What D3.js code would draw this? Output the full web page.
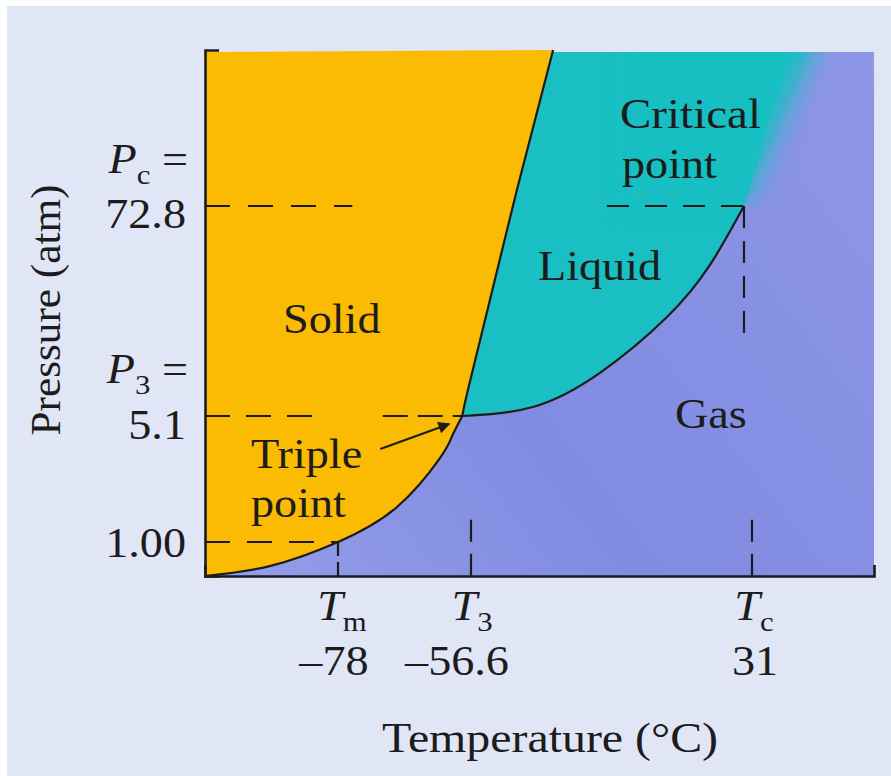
<!DOCTYPE html>
<html><head><meta charset="utf-8">
<script src="https://cdn.jsdelivr.net/npm/d3@7"></script>
<style>html,body{margin:0;padding:0;background:#fff;} svg{display:block}</style>
</head><body><svg id="c" width="891" height="776"></svg>
<script>
// ---------------- data (CO2 phase diagram, schematic axes) ----------------
const tempMin = -100, tempMax = 70;          // axis limits (°C, schematic)
const presMin = 0, presMax = 100;            // axis limits (atm, schematic)
const tempTicks = [-78, -56.6, 31];
const tempTickLabels = ["\u201378", "\u201356.6", "31"];
const tempSymbols = ["m", "3", "c"];
const presTicks = [1.00, 5.1, 72.8];
const presTickLabels = ["1.00", "5.1", "72.8"];
const presSymbols = ["", "3", "c"];

// sublimation curve (solid/gas)
const sublimationT = [-100, -89.3, -78, -68.5, -61.6, -59.7, -58.0];
const sublimationP = [0, 0.29, 1.0, 2.14, 3.73, 4.42, 5.1];
// melting curve (solid/liquid)
const meltingT = [-58.0, -57.1, -50.7, -42.3, -31.0];
const meltingP = [5.1, 13.5, 42.5, 75.6, 100];
// vaporization curve (liquid/gas)
const vaporT = [-58.0, -37.3, -16.4, 4.5, 17.9, 28.5];
const vaporP = [5.1, 8.0, 19.0, 37.0, 53.8, 72.8];
// supercritical fade boundary top end
const fadeTopT = 54, fadeTopP = 100;

const regionLabels = ["Solid", "Liquid", "Gas"];

// ---------------- drawing ----------------
const W = 891, H = 776;
const FONT = "'Liberation Serif','Times New Roman',serif";
const SX = 1.1;
const INK = "#1c1c1c";
const svg = d3.select("#c");

svg.append("rect").attr("width", W).attr("height", H).attr("fill", "#ffffff");
svg.append("rect").attr("x", 7).attr("y", 6).attr("width", W - 7).attr("height", H - 6).attr("fill", "#e1e6f6");

const x = d3.scaleLinear().domain([tempMin, ...tempTicks, tempMax]).range([205, 338, 471, 752, 874]);
const y = d3.scaleLinear().domain([presMin, ...presTicks, presMax]).range([576, 542, 416, 206, 50]);

const defs = svg.append("defs");
const gg = defs.append("linearGradient").attr("id", "gasGrad")
  .attr("gradientUnits", "userSpaceOnUse")
  .attr("x1", x(tempMin)).attr("y1", y(presMin)).attr("x2", x(tempMax)).attr("y2", y(presMax));
gg.append("stop").attr("offset", 0).attr("stop-color", "#959ee8");
gg.append("stop").attr("offset", 0.4).attr("stop-color", "#808ce2");
gg.append("stop").attr("offset", 1).attr("stop-color", "#8e96e6");
defs.append("filter").attr("id", "soft")
  .attr("filterUnits", "userSpaceOnUse").attr("x", 0).attr("y", 0).attr("width", W).attr("height", H)
  .append("feGaussianBlur").attr("stdDeviation", 12);

const pts = (T, P) => T.map((t, i) => [x(t), y(P[i])]);
const sub = pts(sublimationT, sublimationP);
const melt = pts(meltingT, meltingP);
const vap = pts(vaporT, vaporP);
const triple = vap[0], crit = vap[vap.length - 1];
const lineGen = d3.line().curve(d3.curveNatural);
const seg = p => lineGen(p).replace(/^M/, "L");

const X0 = x(tempMin), X1 = x(tempMax), Y0 = y(presMin), Y1 = y(presMax);
const topY = Y1 + 2;

// gas background
svg.append("rect").attr("x", X0).attr("y", topY).attr("width", X1 - X0).attr("height", Y0 - topY)
  .attr("fill", "url(#gasGrad)");

// liquid (sharp part): region above vaporization curve; solid is painted over its left side
const fadeTop = [x(fadeTopT), topY];
svg.append("path")
  .attr("d", "M" + triple + seg(vap) + "L" + [fadeTop[0] - 34, topY] + "L" + [triple[0], topY] + "Z")
  .attr("fill", "#19bfc2");
// liquid soft fade into supercritical region
defs.append("clipPath").attr("id", "aboveVap").append("path")
  .attr("d", "M" + triple + seg(vap) + "L" + [X1, crit[1]] + "L" + [X1, topY] + "L" + [triple[0], topY] + "Z");
svg.append("g").attr("clip-path", "url(#aboveVap)")
  .append("path")
  .attr("d", "M" + crit + "L" + [fadeTop[0] + 6, topY - 40] + "L" + [crit[0] - 120, topY - 40] + "L" + [crit[0] - 120, crit[1]] + "Z")
  .attr("fill", "#19bfc2").attr("filter", "url(#soft)");

// solid: origin -> sublimation -> melting -> top-left
svg.append("path")
  .attr("d", lineGen(sub) + seg(melt) + "L" + [X0, topY] + "Z")
  .attr("fill", "#fbbb02");

// phase boundary curves
[sub, melt, vap].forEach(p => {
  svg.append("path").attr("d", lineGen(p)).attr("fill", "none")
    .attr("stroke", INK).attr("stroke-width", 2.2);
});

// dashed guide lines
const dash = (a, b, da) => svg.append("line")
  .attr("x1", a[0]).attr("y1", a[1]).attr("x2", b[0]).attr("y2", b[1])
  .attr("stroke", INK).attr("stroke-width", 2.2).attr("stroke-dasharray", da);
// Pc
dash([X0, y(72.8)], [x(-75.7), y(72.8)], "25,18");
dash([x(-14.2), y(72.8)], crit, "22,16");
dash(crit, [crit[0], y(30.6)], "22,13");
// P3
dash([X0, y(5.1)], [x(-81.3), y(5.1)], "25,16");
dash([x(-70.8), y(5.1)], triple, "25,10");
// 1 atm
dash([X0, y(1)], [x(-78), y(1)], "25,17");
dash([x(-78), y(1)], [x(-78), Y0], "14,6");
// short tick dashes at T3, Tc
[-56.6, 31].forEach(t => dash([x(t), y(1.72)], [x(t), Y0], "22,12"));

// axes (domain lines only, with inward end ticks)
svg.append("g").attr("transform", `translate(${X0},0)`)
  .call(d3.axisLeft(y).tickValues([]).tickSizeOuter(-14))
  .call(g => g.select(".domain").attr("stroke", INK).attr("stroke-width", 2.6));
svg.append("g").attr("transform", `translate(0,${Y0})`)
  .call(d3.axisBottom(x).tickValues([]).tickSizeOuter(-11))
  .call(g => g.select(".domain").attr("stroke", INK).attr("stroke-width", 2.6));

// ---------------- text ----------------
function label(px, py, anchor, size, rot, sx) {
  const s = sx || (rot ? 1.03 : SX);
  return svg.append("text")
    .attr("transform", `translate(${px},${py})` + (rot ? ` rotate(${rot})` : "") + ` scale(${s},1)`)
    .attr("text-anchor", anchor).attr("font-family", FONT).attr("font-size", size).attr("fill", INK);
}
function symbolLabel(px, py, anchor, main, subTxt, tail) {
  const t = label(px, py, anchor, 42);
  t.append("tspan").attr("font-style", "italic").text(main);
  t.append("tspan").attr("font-size", 28).attr("dy", 11).text(subTxt);
  if (tail) t.append("tspan").attr("dy", -11).text(tail);
  return t;
}

// region labels
label(283, 333, "start", 42).text(regionLabels[0]);
label(538, 280, "start", 42).text(regionLabels[1]);
label(675, 428, "start", 42).text(regionLabels[2]);
label(620, 128, "start", 42, 0, 1.12).text("Critical");
label(622, 178, "start", 42).text("point");
label(251, 468, "start", 42).text("Triple");
label(251, 517, "start", 42).text("point");

// triple point arrow
defs.append("marker").attr("id", "arr").attr("viewBox", "0 0 10 10").attr("refX", 9).attr("refY", 5)
  .attr("markerWidth", 7).attr("markerHeight", 6).attr("markerUnits", "strokeWidth").attr("orient", "auto")
  .append("path").attr("d", "M0,0 L10,5 L0,10 Z").attr("fill", INK);
svg.append("line")
  .attr("x1", triple[0] - 82).attr("y1", triple[1] + 33)
  .attr("x2", triple[0] - 13).attr("y2", triple[1] + 8)
  .attr("stroke", INK).attr("stroke-width", 2).attr("marker-end", "url(#arr)");

// y tick labels
const presLabelDy = [15, 23, 22];
presTicks.forEach((p, i) => {
  label(186, y(p) + presLabelDy[i], "end", 42).text(presTickLabels[i]);
  if (presSymbols[i]) symbolLabel(188, y(p) - 33, "end", "P", presSymbols[i], " =");
});

// x tick labels
const tempNumDx = [-4, -14, 3];
const tempSymDx = [4, 1, 2];
tempTicks.forEach((t, i) => {
  symbolLabel(x(t) + tempSymDx[i], Y0 + 44, "middle", "T", tempSymbols[i], "");
  label(x(t) + tempNumDx[i], Y0 + 99, "middle", 42).text(tempTickLabels[i]);
});

// axis titles
label(550, 752, "middle", 42, 0, 1.14).text("Temperature (\u00B0C)");
label(60, 310, "middle", 42, -90).text("Pressure (atm)");
</script>
</body></html>
